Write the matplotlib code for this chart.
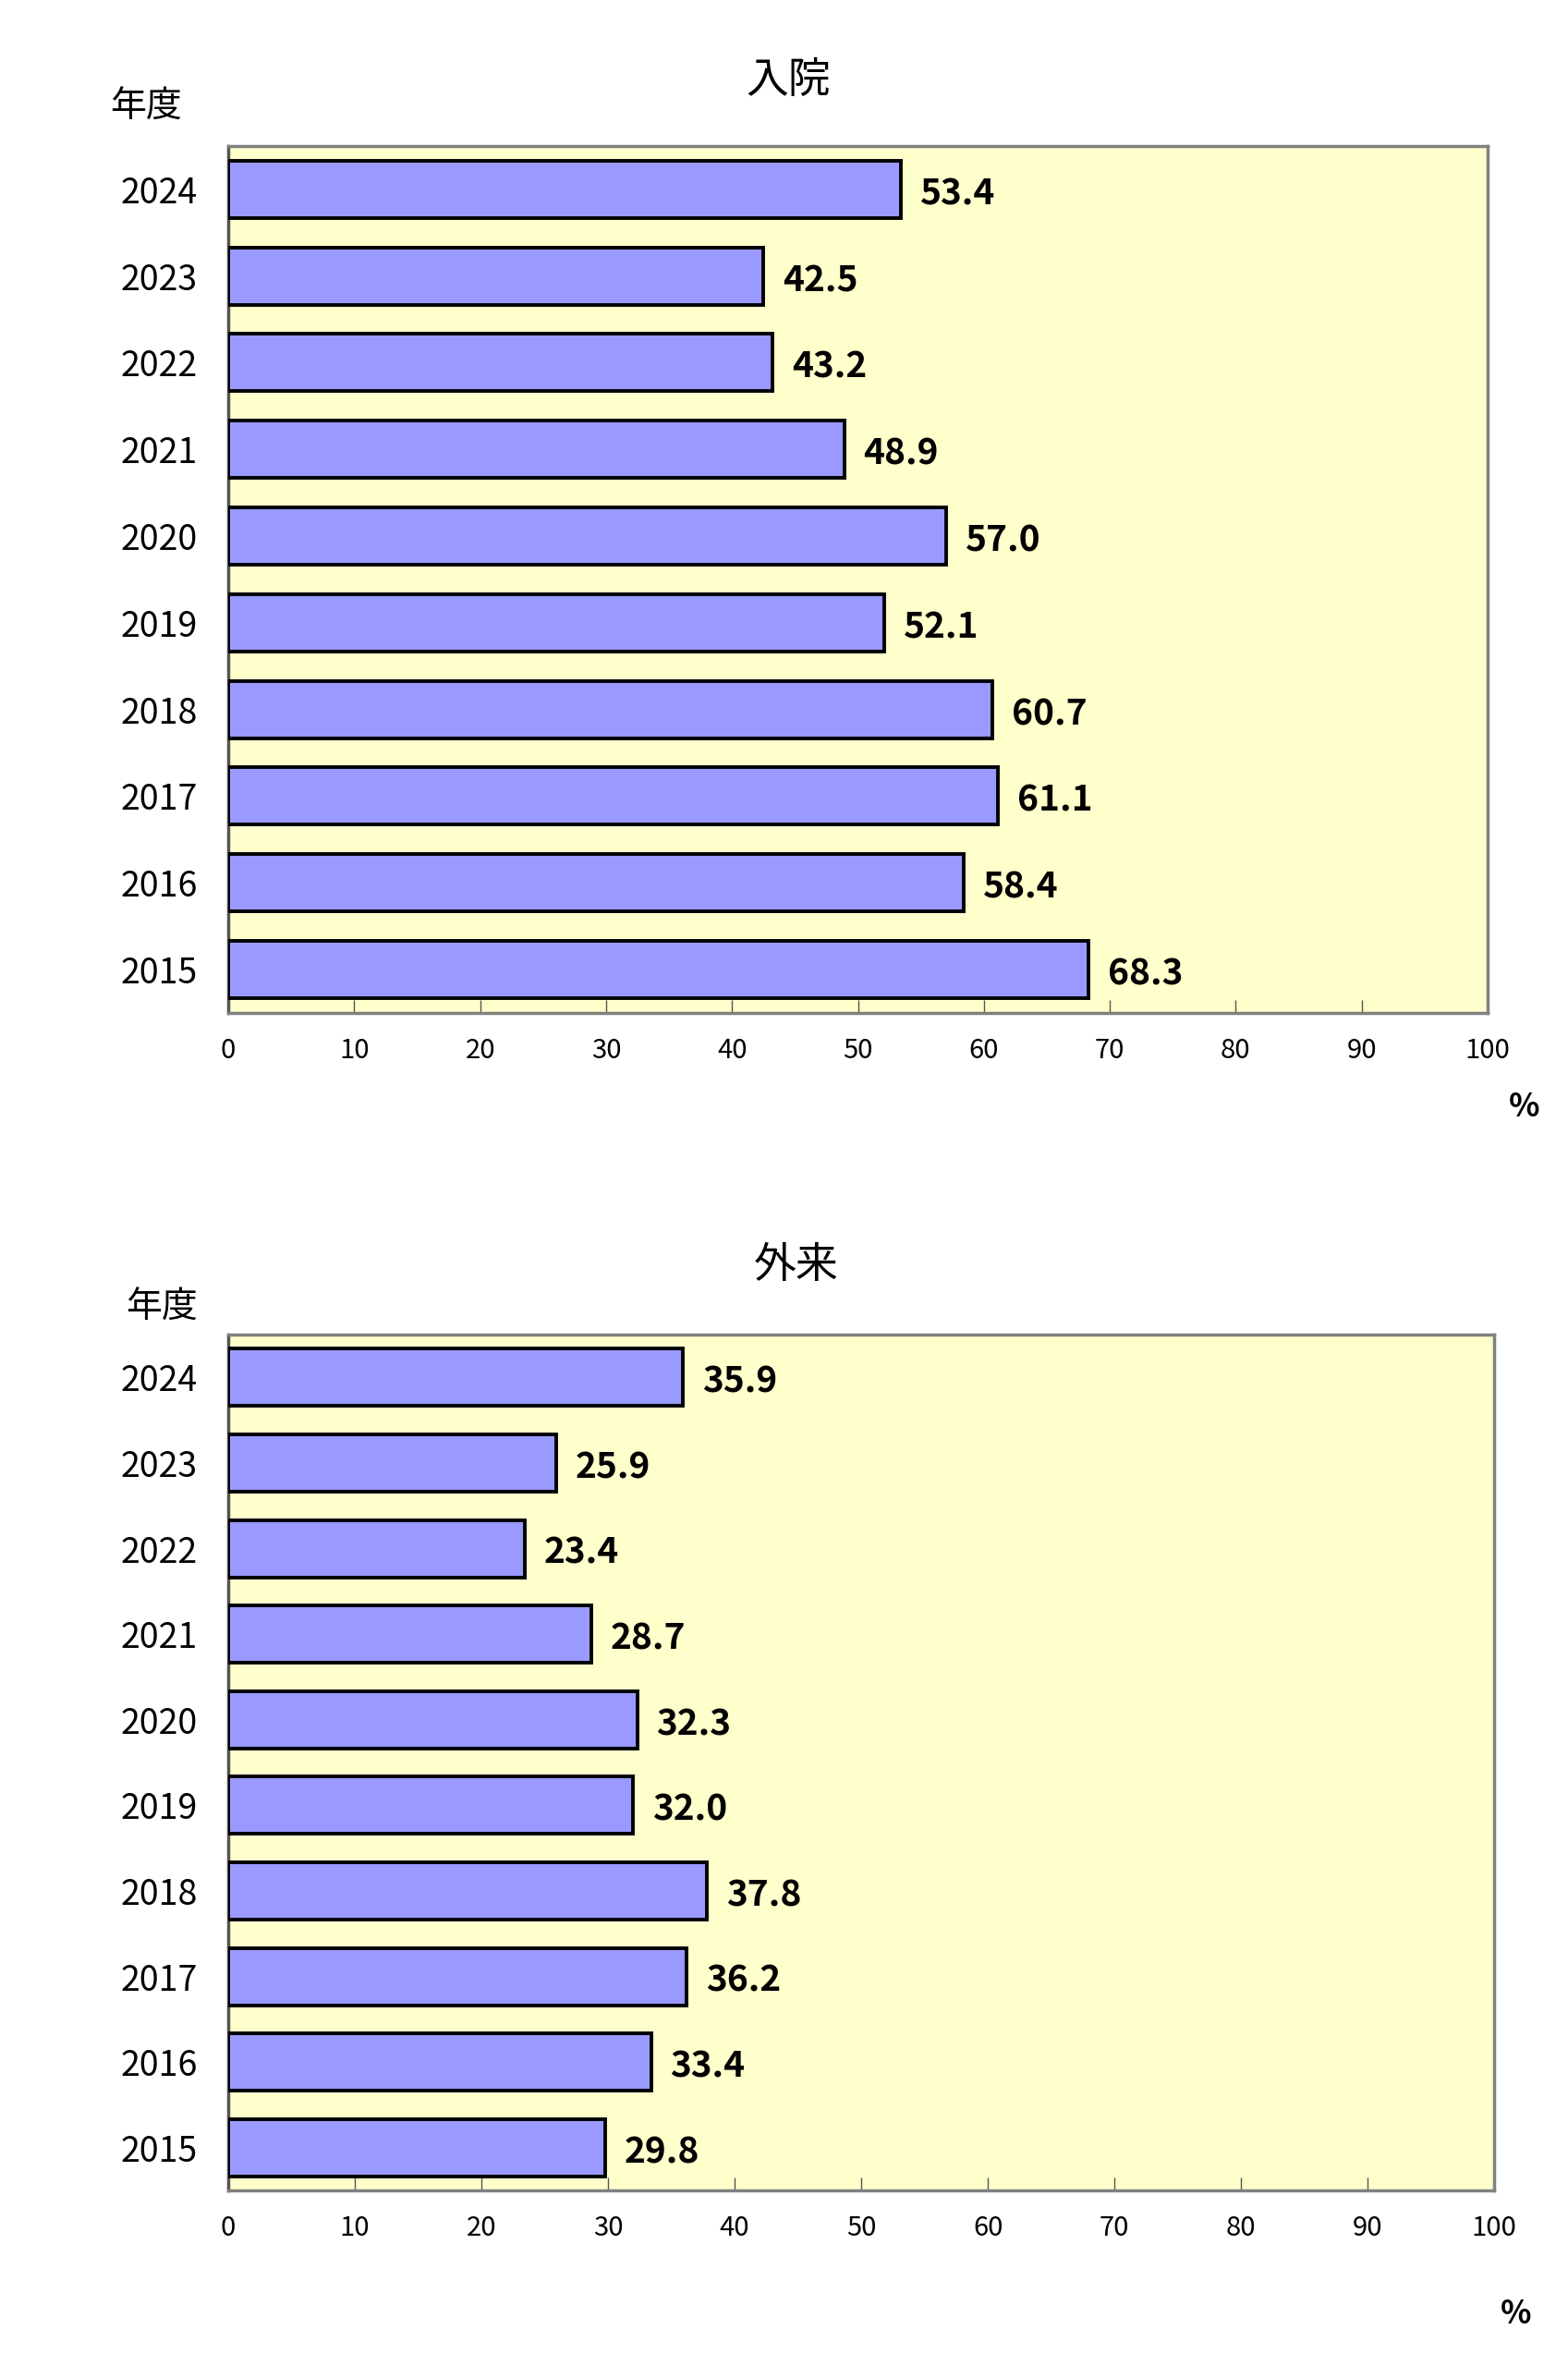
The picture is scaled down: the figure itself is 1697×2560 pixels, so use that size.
import matplotlib
matplotlib.use("Agg")
import matplotlib.pyplot as plt

plt.rcParams['font.family'] = ['Noto Sans CJK JP', 'DejaVu Sans']

# data (bottom to top)
years = ["2015", "2016", "2017", "2018", "2019", "2020", "2021", "2022", "2023", "2024"]
inpatient = [68.3, 58.4, 61.1, 60.7, 52.1, 57.0, 48.9, 43.2, 42.5, 53.4]
outpatient = [29.8, 33.4, 36.2, 37.8, 32.0, 32.3, 28.7, 23.4, 25.9, 35.9]
xticks = [0, 10, 20, 30, 40, 50, 60, 70, 80, 90, 100]

fig = plt.figure(figsize=(16.97, 25.60), dpi=100)


def draw_panel(rect, values, bar_h):
    ax = fig.add_axes(rect)
    ax.set_facecolor("#FFFFCC")
    pos = range(len(years))
    ax.barh(pos, values, height=bar_h, color="#9999FF", edgecolor="black", linewidth=2.8, zorder=3)
    for y, v in zip(pos, values):
        ax.annotate(f"{v:.1f}", xy=(v, y), xytext=(15, -3.5), textcoords="offset points",
                    ha="left", va="center", fontsize=28, fontweight="bold")
    ax.set_xlim(0, 100)
    ax.set_ylim(-0.5, len(years) - 0.5)
    ax.set_xticks(xticks)
    ax.set_xticklabels([str(t) for t in xticks], fontsize=21)
    ax.set_yticks(list(pos))
    ax.set_yticklabels(years, fontsize=27)
    ax.tick_params(axis="x", direction="in", length=10, width=1, pad=19, color="#555555")
    ax.tick_params(axis="y", length=0, pad=24)
    for lab in ax.get_xticklabels():
        lab.set_x(lab.get_position()[0])
    for s in ax.spines.values():
        s.set_color("#808080")
        s.set_linewidth(2.5)
    ax.spines["left"].set_color("#555555")
    return ax


draw_panel([0.1456, 0.5719, 0.8031, 0.3664], inpatient, 0.66)
draw_panel([0.1456, 0.0742, 0.8073, 0.3617], outpatient, 0.67)

fig.text(0.5027, 0.966, "入院", ha="center", va="center", fontsize=33)
fig.text(0.0931, 0.9546, "年度", ha="center", va="center", fontsize=28)
fig.text(0.9723, 0.5324, "%", ha="center", va="center", fontsize=25, fontweight="bold")

fig.text(0.508, 0.4652, "外来", ha="center", va="center", fontsize=33)
fig.text(0.1031, 0.4474, "年度", ha="center", va="center", fontsize=28)
fig.text(0.967, 0.0219, "%", ha="center", va="center", fontsize=25, fontweight="bold")

fig.savefig("out.png", dpi=100, facecolor="white")
